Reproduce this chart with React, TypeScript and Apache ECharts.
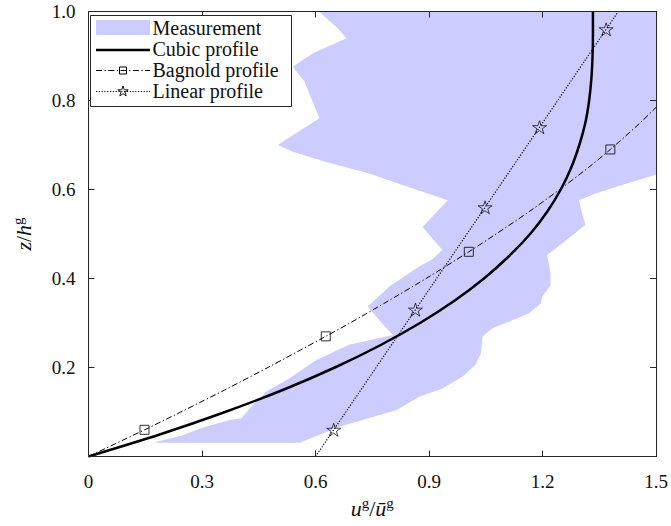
import React, { useEffect, useRef } from 'react';
import * as echarts from 'echarts';

// ---------- data ----------
const xTickValues = [0, 0.3, 0.6, 0.9, 1.2, 1.5];
const yTickValues = [0.2, 0.4, 0.6, 0.8, 1.0];

// Measurement band: left edge (top -> bottom) and right edge (bottom -> top)
const measLeftU = [0.610, 0.659, 0.682, 0.593, 0.540, 0.571, 0.610, 0.540, 0.500, 0.540, 0.628, 0.742, 0.830, 0.949, 0.883, 0.935, 0.909, 0.874, 0.795, 0.738, 0.768, 0.804, 0.689, 0.602, 0.531, 0.470, 0.434, 0.404, 0.373, 0.294, 0.250, 0.180, 0.176];
const measLeftZ = [1.000, 0.962, 0.940, 0.906, 0.876, 0.842, 0.760, 0.722, 0.700, 0.685, 0.662, 0.636, 0.610, 0.576, 0.516, 0.464, 0.443, 0.427, 0.382, 0.337, 0.307, 0.273, 0.251, 0.217, 0.176, 0.146, 0.116, 0.086, 0.082, 0.063, 0.048, 0.033, 0.031];
const measRightU = [0.558, 0.663, 0.751, 0.813, 0.874, 0.935, 0.988, 1.023, 1.037, 1.041, 1.067, 1.111, 1.164, 1.195, 1.199, 1.221, 1.221, 1.212, 1.252, 1.313, 1.304, 1.296, 1.340, 1.410, 1.498, 1.500, 1.500];
const measRightZ = [0.031, 0.067, 0.089, 0.104, 0.134, 0.153, 0.179, 0.206, 0.232, 0.269, 0.288, 0.303, 0.322, 0.344, 0.359, 0.385, 0.412, 0.453, 0.479, 0.520, 0.547, 0.576, 0.591, 0.610, 0.633, 0.635, 1.000];

// Cubic profile
const cubicZ = [0, 0.05, 0.10, 0.15, 0.20, 0.25, 0.30, 0.35, 0.40, 0.45, 0.50, 0.55, 0.60, 0.65, 0.70, 0.75, 0.80, 0.85, 0.90, 0.95, 1.00];
const cubicU = [0, 0.190, 0.361, 0.515, 0.651, 0.771, 0.876, 0.967, 1.045, 1.111, 1.167, 1.212, 1.248, 1.276, 1.297, 1.313, 1.323, 1.329, 1.332, 1.333, 1.333];

// Bagnold profile
const bagnoldZ = [0, 0.06, 0.10, 0.15, 0.20, 0.27, 0.30, 0.35, 0.40, 0.46, 0.50, 0.55, 0.60, 0.65, 0.69, 0.75, 0.80];
const bagnoldU = [0, 0.148, 0.244, 0.361, 0.474, 0.627, 0.691, 0.793, 0.892, 1.005, 1.077, 1.164, 1.245, 1.322, 1.379, 1.458, 1.518];
const bagnoldMarkZ = [0.06, 0.27, 0.46, 0.69];
const bagnoldMarkU = [0.148, 0.627, 1.005, 1.379];

// Linear profile
const linearZ = [0, 1.0];
const linearU = [0.6, 1.4];
const linearMarkZ = [0.06, 0.33, 0.56, 0.74, 0.96];
const linearMarkU = [0.648, 0.864, 1.048, 1.192, 1.368];

const legendNames = ['Measurement', 'Cubic profile', 'Bagnold profile', 'Linear profile'];

// ---------- styling ----------
const FONT = 'Liberation Serif';
const AXIS_COLOR = '#262626';
const TEXT_COLOR = '#111';
const BAND = '#ccccff';
const STAR = 'path://M50 0L61.23 34.55L97.55 34.55L68.17 55.9L79.39 90.45L50 69.1L20.61 90.45L31.83 55.9L2.45 34.55L38.77 34.55Z';

const zip = (u: number[], z: number[]) => u.map((v, i) => [v, z[i]]);

function starPoints(cx: number, cy: number, r: number) {
  const pts: number[][] = [];
  for (let k = 0; k < 10; k++) {
    const a = -Math.PI / 2 + (k * Math.PI) / 5;
    const rr = k % 2 === 0 ? r : r * 0.382;
    pts.push([cx + rr * Math.cos(a), cy + rr * Math.sin(a)]);
  }
  return pts;
}

const nameRich = {
  i: { fontFamily: FONT, fontStyle: 'italic', fontSize: 22, lineHeight: 26, color: TEXT_COLOR },
  n: { fontFamily: FONT, fontSize: 22, lineHeight: 26, color: TEXT_COLOR },
  s: { fontFamily: FONT, fontSize: 15, lineHeight: 15, verticalAlign: 'top', color: TEXT_COLOR },
};

function axisCommon(extra: any) {
  return {
    type: 'value',
    axisLine: { show: true, onZero: false, lineStyle: { color: AXIS_COLOR, width: 1 } },
    axisTick: { show: true, inside: true, length: 6, lineStyle: { color: AXIS_COLOR, width: 1 } },
    splitLine: { show: false },
    z: 10,
    ...extra,
  };
}

export default function App() {
  const ref = useRef<HTMLDivElement>(null);

  useEffect(() => {
    if (!ref.current) return;
    const chart = echarts.init(ref.current, null, { renderer: 'svg' });

    const poly = [...zip(measLeftU, measLeftZ), ...zip(measRightU, measRightZ)];

    const lx = 96, lw = 54, tx = 152.5;
    const rows = [28, 49.2, 70.2, 91.2];

    const legendGraphics: any[] = [
      { type: 'rect', z: 50, shape: { x: 90.5, y: 15.5, width: 201, height: 91 }, style: { fill: '#fff', stroke: AXIS_COLOR, lineWidth: 1 } },
      { type: 'rect', z: 51, shape: { x: lx, y: 20, width: lw, height: 15 }, style: { fill: BAND } },
      { type: 'line', z: 51, shape: { x1: lx, y1: 50, x2: lx + lw, y2: 50 }, style: { stroke: '#000', lineWidth: 2.5 } },
      { type: 'line', z: 51, shape: { x1: lx, y1: 70.5, x2: lx + lw, y2: 70.5 }, style: { stroke: '#000', lineWidth: 1, lineDash: [6, 2.5, 1.3, 2.5] } },
      { type: 'rect', z: 52, shape: { x: lx + lw / 2 - 3.5, y: 67, width: 7, height: 7 }, style: { fill: 'none', stroke: '#000', lineWidth: 1 } },
      { type: 'line', z: 51, shape: { x1: lx, y1: 91.5, x2: lx + lw, y2: 91.5 }, style: { stroke: '#000', lineWidth: 1.2, lineDash: [1.2, 1.6] } },
      { type: 'polygon', z: 52, shape: { points: starPoints(lx + lw / 2, 91.5, 5.5) }, style: { fill: 'none', stroke: '#000', lineWidth: 0.9 } },
      ...legendNames.map((name, i) => ({
        type: 'text', z: 52, x: tx, y: rows[i],
        style: { text: name, fontFamily: FONT, fontSize: 20, fill: TEXT_COLOR, align: 'left', verticalAlign: 'middle', textAlign: 'left', textVerticalAlign: 'middle' },
      })),
    ];

    const option: any = {
      animation: false,
      backgroundColor: '#fff',
      textStyle: { fontFamily: FONT },
      grid: { left: 88.5, right: 13.5, top: 11.5, bottom: 69.5, containLabel: false },
      xAxis: [
        axisCommon({
          min: 0, max: 1.5, interval: 0.3, position: 'bottom',
          axisLabel: {
            margin: 15, color: TEXT_COLOR, fontSize: 19, fontFamily: FONT,
            formatter: (v: number) => (xTickValues.includes(v) && v === 0 ? '0' : v.toFixed(1)),
          },
          name: '{i|u}{s|g}{n|/}{i|ū}{s|g}',
          nameLocation: 'middle', nameGap: 38,
          nameTextStyle: { rich: nameRich },
        }),
        axisCommon({ min: 0, max: 1.5, interval: 0.3, position: 'top', axisLabel: { show: false } }),
      ],
      yAxis: [
        axisCommon({
          min: 0, max: 1.0, interval: 0.2, position: 'left',
          axisLabel: {
            margin: 13, color: TEXT_COLOR, fontSize: 19, fontFamily: FONT, showMinLabel: false,
            formatter: (v: number) => (yTickValues.some((t) => Math.abs(t - v) < 1e-9) ? v.toFixed(1) : ''),
          },
          name: '{i|z}{n|/}{i|h}{s|g}',
          nameLocation: 'middle', nameGap: 52, nameRotate: 90,
          nameTextStyle: { rich: nameRich },
        }),
        axisCommon({ min: 0, max: 1.0, interval: 0.2, position: 'right', axisLabel: { show: false } }),
      ],
      series: [
        {
          name: 'Measurement', type: 'custom', z: 1, clip: true, silent: true,
          data: [[0, 0]],
          renderItem: (params: any, api: any) => ({
            type: 'polygon',
            shape: { points: poly.map((p) => api.coord(p)) },
            style: { fill: BAND, stroke: 'none' },
          }),
        },
        {
          name: 'Bagnold profile', type: 'line', z: 3, symbol: 'none', clip: true, silent: true,
          data: zip(bagnoldU, bagnoldZ), smooth: 0.3,
          lineStyle: { color: '#000', width: 1, type: [6, 2.5, 1.3, 2.5] },
        },
        {
          name: 'Linear profile', type: 'line', z: 3, symbol: 'none', clip: true, silent: true,
          data: zip(linearU, linearZ),
          lineStyle: { color: '#000', width: 1.2, type: [1.2, 1.6] },
        },
        {
          name: 'Cubic profile', type: 'line', z: 4, symbol: 'none', clip: true, silent: true,
          data: zip(cubicU, cubicZ), smooth: 0.3,
          lineStyle: { color: '#000', width: 2.5 },
        },
        {
          name: 'Bagnold markers', type: 'scatter', z: 5, silent: true,
          symbol: 'rect', symbolSize: 9,
          data: zip(bagnoldMarkU, bagnoldMarkZ),
          itemStyle: { color: 'rgba(0,0,0,0)', borderColor: '#000', borderWidth: 1 },
        },
        {
          name: 'Linear markers', type: 'scatter', z: 5, silent: true,
          symbol: STAR, symbolSize: [14, 13],
          data: zip(linearMarkU, linearMarkZ),
          itemStyle: { color: 'rgba(0,0,0,0)', borderColor: '#000', borderWidth: 0.9 },
        },
      ],
      graphic: legendGraphics,
    };

    chart.setOption(option);
    return () => chart.dispose();
  }, []);

  return (
    <div
      ref={ref}
      style={{ position: 'fixed', left: 0, top: 0, width: 671, height: 526, background: '#fff' }}
    />
  );
}
